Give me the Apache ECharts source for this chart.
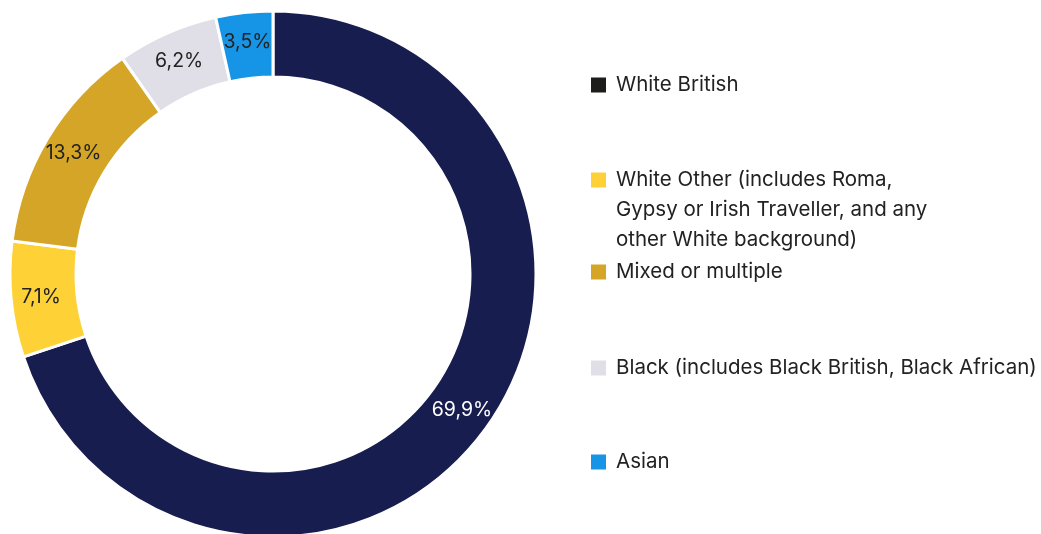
<!DOCTYPE html>
<html>
<head>
<meta charset="utf-8">
<script src="https://cdn.jsdelivr.net/npm/echarts@6/dist/echarts.min.js"></script>
<style>
  html, body { margin: 0; padding: 0; background: #fff; }
  #chart { width: 1041px; height: 534px; }
</style>
</head>
<body>
<div id="chart"></div>
<script>
// Datos del gráfico (orden horario desde arriba)
const categories = [
  "White British",
  "White Other (includes Roma,\nGypsy or Irish Traveller, and any\nother White background)",
  "Mixed or multiple",
  "Black (includes Black British, Black African)",
  "Asian"
];
const values = [69.9, 7.1, 13.3, 6.2, 3.5];
const sliceColors = ["#181d4f", "#fed136", "#d4a526", "#e0dfe8", "#1695e6"];
const legendColors = ["#1d1d1b", "#fed136", "#d4a526", "#e0dfe8", "#1695e6"];
const labelColors = ["#ffffff", "#222222", "#222222", "#222222", "#222222"];

const FONT = "Inter, 'Noto Sans', sans-serif";
// centro vertical del icono de cada leyenda
const legendCenters = [85, 180, 272, 368, 462];

const chart = echarts.init(document.getElementById("chart"), null, { renderer: "canvas" });

// Una leyenda por elemento para controlar la posición vertical
const legends = categories.map((name, i) => {
  const lines = name.split("\n").length;
  // líneas vacías arriba para que la primera línea quede alineada con el icono
  const pad = lines - 1;
  const totalLines = lines + pad;
  return {
    left: 591,
    top: legendCenters[i] - (totalLines * 30) / 2,
    orient: "vertical",
    padding: 0,
    selectedMode: false,
    icon: "rect",
    itemWidth: 15,
    itemHeight: 15,
    data: [{ name: name, itemStyle: { color: legendColors[i], borderWidth: 0 } }],
    formatter: (n) => "\n".repeat(pad) + n,
    textStyle: {
      fontFamily: FONT,
      fontSize: 20.5,
      color: "#222",
      lineHeight: 30,
      padding: [0, 0, 0, 5]
    }
  };
});

chart.setOption({
  animation: false,
  legend: legends,
  series: [{
    type: "pie",
    center: [273, 274],
    radius: [197, 263],
    startAngle: 90,
    clockwise: true,
    avoidLabelOverlap: false,
    itemStyle: { borderColor: "#fff", borderWidth: 3 },
    label: {
      show: true,
      position: "inside",
      fontFamily: FONT,
      fontSize: 19.5,
      formatter: (p) => p.value.toFixed(1).replace(".", ",") + "%"
    },
    labelLine: { show: false },
    emphasis: { disabled: true },
    data: categories.map((name, i) => ({
      name: name,
      value: values[i],
      itemStyle: { color: sliceColors[i] },
      label: { color: labelColors[i] }
    }))
  }]
});
</script>
</body>
</html>
